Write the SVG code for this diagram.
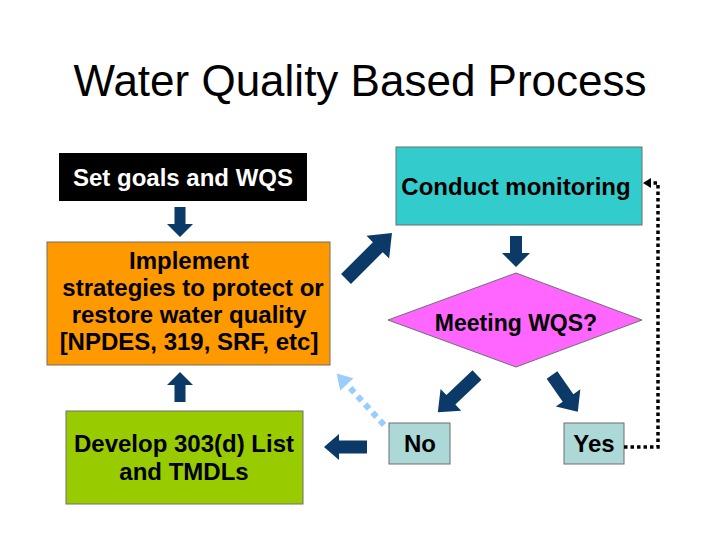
<svg xmlns="http://www.w3.org/2000/svg" width="720" height="540" viewBox="0 0 720 540">
<defs>
<style>
.t{font-family:"Liberation Sans",Arial,sans-serif;font-weight:bold;font-size:24px;fill:#000;text-anchor:middle}
.title{font-family:"Liberation Sans",Arial,sans-serif;font-size:44px;fill:#000;text-anchor:middle}
.box{stroke:#6f6f6f;stroke-width:1}
.arr{fill:#0B3A68}
</style>
</defs>
<rect width="720" height="540" fill="#fff"/>
<text class="title" x="360" y="96">Water Quality Based Process</text>

<g id="set-goals">
<rect x="59" y="153" width="248" height="48" fill="#000"/>
<text class="t" x="183" y="186" style="fill:#fff">Set goals and WQS</text>
</g>
<g id="implement">
<rect class="box" x="47" y="242" width="283" height="123" fill="#FF9900"/>
<text class="t" x="189" y="269">Implement</text>
<text class="t" x="193" y="296">strategies to protect or</text>
<text class="t" x="189" y="323">restore water quality</text>
<text class="t" x="189" y="350">[NPDES, 319, SRF, etc]</text>
</g>
<g id="develop">
<rect class="box" x="66" y="411" width="237" height="93" fill="#99CC00"/>
<text class="t" x="184" y="452">Develop 303(d) List</text>
<text class="t" x="184" y="480">and TMDLs</text>
</g>
<g id="monitoring">
<rect class="box" x="396" y="147" width="246" height="78" fill="#33CCCC"/>
<text class="t" x="516" y="195">Conduct monitoring</text>
</g>
<g id="meeting">
<polygon class="box" points="516,273 642,320 516,367 388,320" fill="#FF66FF"/>
<text class="t" x="516" y="331" style="font-size:23px">Meeting WQS?</text>
</g>
<g id="no">
<rect class="box" x="389" y="423" width="61" height="41" fill="#ADD8D8"/>
<text class="t" x="420" y="452">No</text>
</g>
<g id="yes">
<rect class="box" x="564" y="423" width="60" height="41" fill="#ADD8D8"/>
<text class="t" x="594" y="452">Yes</text>
</g>

<g id="connectors">
<polygon class="arr" transform="translate(180,207) rotate(90)" points="0,-5.5 17,-5.5 17,-13 30,0 17,13 17,5.5 0,5.5"/>
<polygon class="arr" transform="translate(180,402) rotate(-90)" points="0,-5.5 17,-5.5 17,-13 30,0 17,13 17,5.5 0,5.5"/>
<polygon class="arr" transform="translate(516,236) rotate(90)" points="0,-6 17,-6 17,-14 31,0 17,14 17,6 0,6"/>
<polygon class="arr" transform="translate(346,279) rotate(-45)" points="0,-7 45,-7 45,-16 65,0 45,16 45,7 0,7"/>
<polygon class="arr" transform="translate(477,375) rotate(136.5)" points="0,-6.5 36,-6.5 36,-15 54,0 36,15 36,6.5 0,6.5"/>
<polygon class="arr" transform="translate(552,375) rotate(55)" points="0,-6.5 28,-6.5 28,-15 45,0 28,15 28,6.5 0,6.5"/>
<polygon class="arr" transform="translate(367,447) rotate(180)" points="0,-6.5 28,-6.5 28,-13 43,0 28,13 28,6.5 0,6.5"/>
<g transform="translate(384,425) rotate(-132.5)">
<line x1="0" y1="0" x2="54" y2="0" stroke="#99CCFF" stroke-width="6" stroke-dasharray="6,5"/>
<polygon points="55,-9 70,0 55,9" fill="#99CCFF"/>
</g>
<polyline points="624,447 658,447 658,183 650,183" fill="none" stroke="#000" stroke-width="3.5" stroke-dasharray="3.5,3"/>
<polygon points="643,183 651,178 651,188" fill="#000"/>
</g>
</svg>
